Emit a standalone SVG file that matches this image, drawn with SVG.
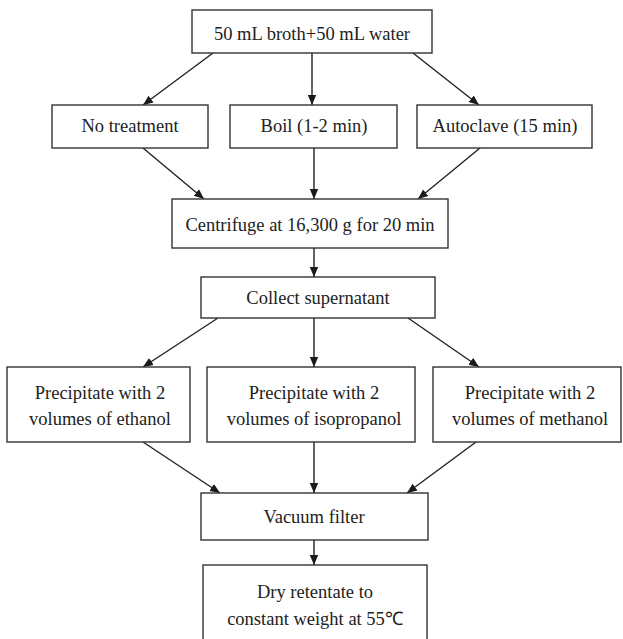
<svg xmlns="http://www.w3.org/2000/svg" width="623" height="639" viewBox="0 0 623 639">
<defs>
<marker id="ah" viewBox="0 0 10 10" refX="10" refY="5" markerWidth="10" markerHeight="10" markerUnits="userSpaceOnUse" orient="auto">
<path d="M0,0.8 L10,5 L0,9.2 Z" fill="#1a1a1a"/>
</marker>
<style>
rect{fill:#fff;stroke:#333;stroke-width:1.4}
text{font-family:"Liberation Serif","Times New Roman",serif;font-size:18.5px;fill:#222;text-anchor:middle}
#connectors line{stroke:#222;stroke-width:1.4;marker-end:url(#ah)}
</style>
</defs>
<rect x="0" y="0" width="623" height="639" style="fill:#fff;stroke:none"/>
<g id="connectors">
<line x1="213" y1="53" x2="143" y2="105"/>
<line x1="312" y1="53" x2="312" y2="105"/>
<line x1="413" y1="53" x2="479" y2="105"/>
<line x1="143" y1="148" x2="204" y2="199"/>
<line x1="314" y1="148" x2="314" y2="199"/>
<line x1="480" y1="148" x2="418" y2="199"/>
<line x1="314" y1="248" x2="314" y2="277"/>
<line x1="218" y1="318" x2="143" y2="367"/>
<line x1="314" y1="318" x2="314" y2="367"/>
<line x1="408" y1="318" x2="479" y2="367"/>
<line x1="143" y1="442" x2="220" y2="493"/>
<line x1="314" y1="442" x2="314" y2="493"/>
<line x1="476" y1="442" x2="407" y2="493"/>
<line x1="314" y1="540" x2="314" y2="565"/>
</g>
<g id="start"><rect x="192" y="10" width="240" height="43"/><text x="312" y="40">50 mL broth+50 mL water</text></g>
<g id="no-treatment"><rect x="52" y="105" width="156" height="43"/><text x="130" y="132">No treatment</text></g>
<g id="boil"><rect x="230" y="105" width="167" height="43"/><text x="314" y="132">Boil (1-2 min)</text></g>
<g id="autoclave"><rect x="417" y="105" width="175" height="43"/><text x="505" y="132">Autoclave (15 min)</text></g>
<g id="centrifuge"><rect x="172" y="199" width="276" height="49"/><text x="310" y="231">Centrifuge at 16,300 g for 20 min</text></g>
<g id="collect"><rect x="201" y="277" width="234" height="41"/><text x="318" y="304">Collect supernatant</text></g>
<g id="ethanol"><rect x="7" y="367" width="183" height="75"/><text x="100" y="399">Precipitate with 2</text><text x="100" y="425">volumes of ethanol</text></g>
<g id="isopropanol"><rect x="207" y="367" width="208" height="75"/><text x="314" y="399">Precipitate with 2</text><text x="314" y="425">volumes of isopropanol</text></g>
<g id="methanol"><rect x="433" y="367" width="188" height="75"/><text x="530" y="399">Precipitate with 2</text><text x="530" y="425">volumes of methanol</text></g>
<g id="vacuum"><rect x="201" y="493" width="227" height="47"/><text x="314" y="523">Vacuum filter</text></g>
<g id="dry"><rect x="203" y="565" width="224" height="85"/><text x="315" y="598">Dry retentate to</text><text x="315" y="625">constant weight at 55℃</text></g>
</svg>
